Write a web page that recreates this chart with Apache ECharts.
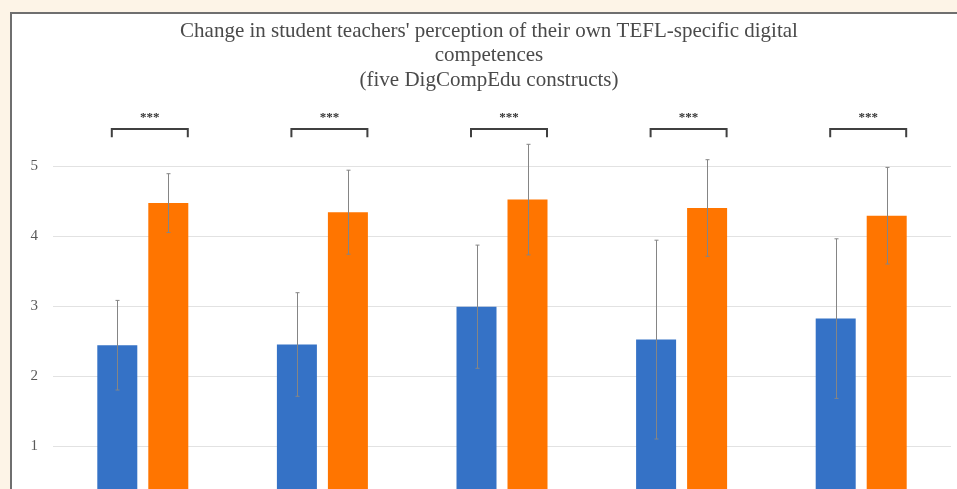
<!DOCTYPE html>
<html>
<head>
<meta charset="utf-8">
<script src="https://cdn.jsdelivr.net/npm/echarts@6/dist/echarts.min.js"></script>
<style>
  html, body { margin: 0; padding: 0; width: 957px; height: 489px; overflow: hidden; background: #fdf4e7; }
  #c { position: absolute; left: 10px; top: 12px; width: 950px; height: 500px; border: 2px solid #6f6f6f; background: #ffffff; }
</style>
</head>
<body>
<div id="c"></div>
<script>
const categories = ['Professional engagement', 'Digital resources', 'Teaching and learning', 'Assessment', 'Empowering learners'];
const preMean = [2.44, 2.45, 2.99, 2.52, 2.82];
const preSD = [0.64, 0.74, 0.88, 1.42, 1.14];
const postMean = [4.47, 4.34, 4.52, 4.40, 4.29];
const postSD = [0.42, 0.60, 0.79, 0.69, 0.69];
const significance = ['***', '***', '***', '***', '***'];
const yTicks = [0, 1, 2, 3, 4, 5];

const BAR_W = 40, BAR_GAP = 11;
const OFF = (BAR_W + BAR_GAP) / 2;

function errorSeries(mean, sd, sign) {
  return {
    type: 'custom',
    name: 'err',
    silent: true,
    z: 5,
    clip: false,
    data: mean.map((m, i) => [i, m - sd[i], m + sd[i]]),
    renderItem: function (params, api) {
      const lo = api.coord([api.value(0), api.value(1)]);
      const hi = api.coord([api.value(0), api.value(2)]);
      const x = Math.round(lo[0] + sign * OFF) + 0.5;
      const cap = 2;
      return {
        type: 'group',
        children: [
          { type: 'line', shape: { x1: x, y1: lo[1], x2: x, y2: hi[1] }, style: { stroke: '#858585', lineWidth: 1 } },
          { type: 'line', shape: { x1: x - cap, y1: lo[1], x2: x + cap, y2: lo[1] }, style: { stroke: '#858585', lineWidth: 1 } },
          { type: 'line', shape: { x1: x - cap, y1: hi[1], x2: x + cap, y2: hi[1] }, style: { stroke: '#858585', lineWidth: 1 } }
        ]
      };
    }
  };
}

const bracketSeries = {
  type: 'custom',
  name: 'sig',
  silent: true,
  clip: false,
  z: 6,
  data: significance.map((s, i) => [i, 5.53, 5.41, 5.69]),
  renderItem: function (params, api) {
    const i = api.value(0);
    const line = api.coord([i, api.value(1)]);
    const tick = api.coord([i, api.value(2)]);
    const star = api.coord([i, api.value(3)]);
    const cx = line[0] + 7;
    const hw = 38;
    return {
      type: 'group',
      children: [
        { type: 'polyline', shape: { points: [[cx - hw, tick[1]], [cx - hw, line[1]], [cx + hw, line[1]], [cx + hw, tick[1]]] },
          style: { stroke: '#404040', lineWidth: 2, fill: null } },
        { type: 'text', x: cx, y: star[1], style: { text: significance[params.dataIndex], fill: '#333', font: 'bold 13px "Liberation Serif"', align: 'center', verticalAlign: 'middle' } }
      ]
    };
  }
};

const chart = echarts.init(document.getElementById('c'), null, { width: 950, height: 500 });
chart.setOption({
  animation: false,
  backgroundColor: '#ffffff',
  title: {
    text: "Change in student teachers' perception of their own TEFL-specific digital\ncompetences\n(five DigCompEdu constructs)",
    left: 472,
    textAlign: 'center',
    top: 0,
    textStyle: { fontFamily: 'Liberation Serif', fontSize: 21, fontWeight: 'normal', color: '#4a4a4a', lineHeight: 24.5 }
  },
  grid: { left: 41, right: 11, top: 152, bottom: -2, containLabel: false, outerBoundsMode: 'none' },
  xAxis: {
    type: 'category',
    data: categories,
    axisLine: { show: false },
    axisTick: { show: false },
    axisLabel: { show: false }
  },
  yAxis: {
    type: 'value',
    min: yTicks[0],
    max: yTicks[yTicks.length - 1],
    interval: 1,
    axisLine: { show: false },
    axisTick: { show: false },
    axisLabel: { fontFamily: 'Liberation Serif', fontSize: 15, color: '#595959', margin: 15 },
    splitLine: { lineStyle: { color: '#e2e2e2', width: 1 } }
  },
  series: [
    { type: 'bar', name: 'Pre', data: preMean, barWidth: BAR_W, barGap: (BAR_GAP / BAR_W * 100) + '%', itemStyle: { color: '#3572c6' } },
    { type: 'bar', name: 'Post', data: postMean, barWidth: BAR_W, itemStyle: { color: '#ff7500' } },
    errorSeries(preMean, preSD, -1),
    errorSeries(postMean, postSD, 1),
    bracketSeries
  ]
});
</script>
</body>
</html>
